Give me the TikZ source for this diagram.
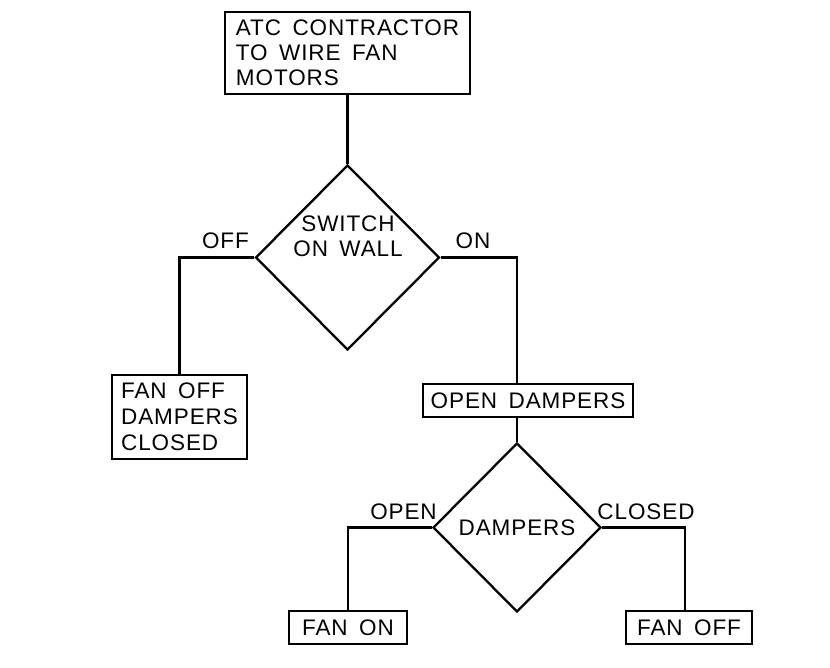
\documentclass[tikz,border=0pt]{standalone}
\usepackage{fontspec}
\newfontfamily\cad[LetterSpace=4,WordSpace=1.6]{Liberation Sans}
\usetikzlibrary{shapes.geometric,calc}
\begin{document}
\begin{tikzpicture}[x=1pt,y=-1pt,line width=2.3pt,
  cadfont/.style={font=\cad\fontsize{22.5}{25}\selectfont},
  box/.style={draw,rectangle,inner sep=0pt,align=left,cadfont},
  dia/.style={draw,diamond,inner sep=0pt,aspect=1},
  txt/.style={inner sep=0pt,align=center,cadfont},
  lbl/.style={inner sep=0pt,anchor=base,cadfont}]
\useasboundingbox[fill=white] (0,0) rectangle (830,668);
% boxes
\node[box,minimum width=245pt,minimum height=82pt] (top) at (347.5,53)
  {ATC CONTRACTOR\\TO WIRE FAN\\MOTORS};
\node[box,minimum width=135pt,minimum height=84pt,font=\cad\fontsize{22.5}{26}\selectfont] (offbox) at (179.5,417)
  {FAN OFF\\DAMPERS\\CLOSED};
\node[box,minimum width=210pt,minimum height=33pt] (odbox) at (528,400.5) {OPEN DAMPERS};
\node[box,minimum width=118pt,minimum height=33pt] (fanon) at (348,627.5) {FAN ON};
\node[box,minimum width=126pt,minimum height=33pt] (fanoff) at (689,627.5) {FAN OFF};
% diamonds
\node[dia,minimum width=184pt,minimum height=185pt] (d1) at (347.5,257.5) {};
\node[txt] (d1t) at (348,236) {SWITCH\\ON WALL};
\node[dia,minimum width=168pt,minimum height=169pt] (d2) at (517,527.5) {};
\node[txt] (d2t) at (517,528) {DAMPERS};
% labels
\node[lbl] (loff) at (225.5,249) {OFF};
\node[lbl] (lon) at (473,249) {ON};
\node[lbl] (lopen) at (403.5,519) {OPEN};
\node[lbl] (lclosed) at (646,519) {CLOSED};
% connectors
\coordinate (cf) at ($(fanoff.north)+(-4,0)$);
\draw (top.south) -- (d1.north);
\draw (d1.west) -| (offbox.north);
\draw (d1.east) -| (d2.north |- odbox.north);
\draw (d2.north |- odbox.south) -- (d2.north);
\draw (d2.west) -| (fanon.north);
\draw (d2.east) -| (cf);
\end{tikzpicture}
\end{document}
